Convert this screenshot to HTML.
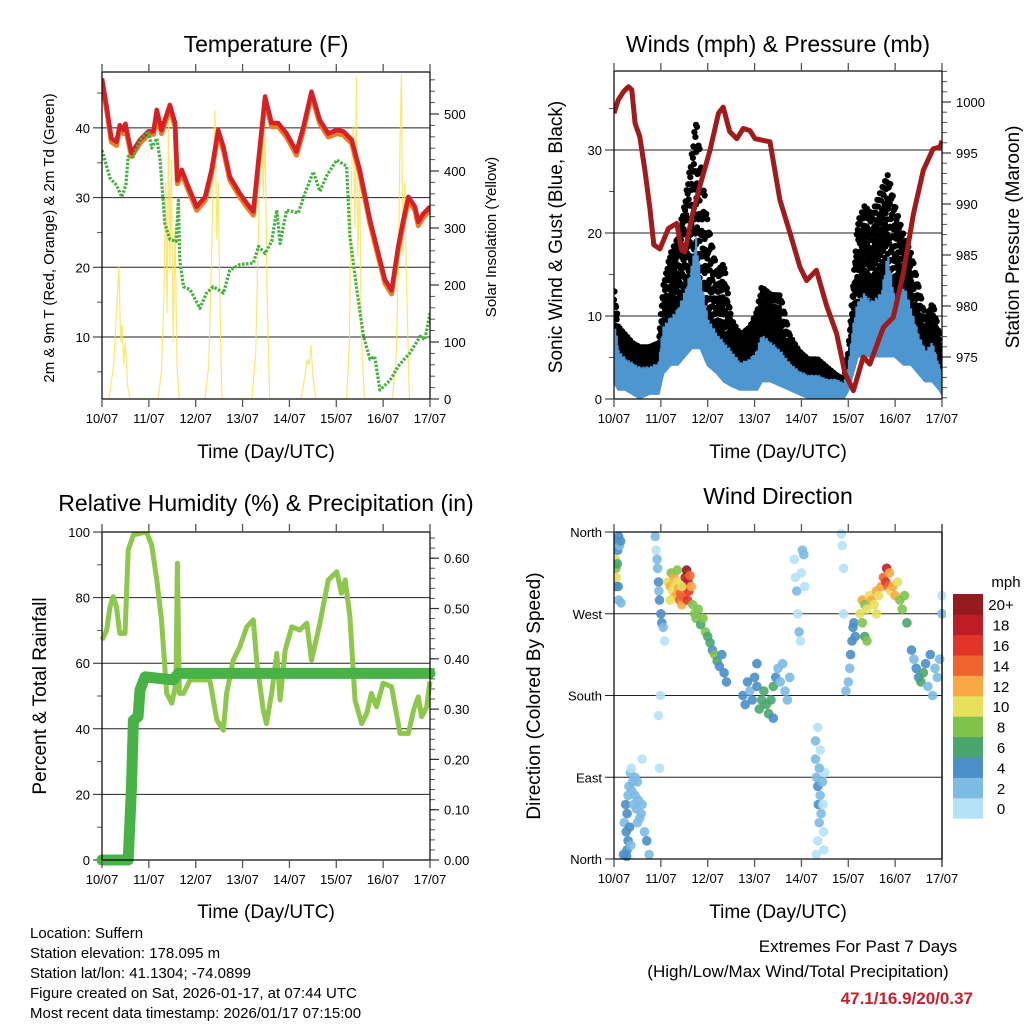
<!DOCTYPE html>
<html><head><meta charset="utf-8"><style>
html,body{margin:0;padding:0;background:#fff;}
svg{display:block;font-family:"Liberation Sans",Arial,sans-serif;}
</style></head><body>
<svg id="c" width="1024" height="1024" viewBox="0 0 1024 1024"></svg>
<script>
// ---------- data ----------
const tempDays=[0,0.1,0.2,0.31,0.38,0.46,0.5,0.63,0.81,0.99,1.1,1.17,1.27,1.45,1.56,1.61,1.7,1.84,2.02,2.2,2.34,2.48,2.59,2.73,2.94,3.09,3.23,3.34,3.48,3.62,3.76,3.94,4.15,4.3,4.47,4.65,4.83,5.01,5.15,5.33,5.5,5.72,5.93,6.04,6.18,6.32,6.43,6.54,6.68,6.75,6.86,7.0];
const temp2m=[47.1,43.0,38.5,38.0,40.4,39.7,40.6,36.4,38.3,39.5,39.5,42.6,39.7,43.3,40.7,32.5,34.0,31.6,28.7,30.1,34.0,39.7,37.3,33.0,30.6,29.2,28.0,35.4,44.5,40.7,40.7,39.2,36.6,40.2,45.2,41.1,39.2,39.7,39.5,38.3,34.0,26.8,21.1,18.2,16.7,22.9,26.8,30.1,28.7,26.5,27.7,28.7];
const temp9m=[46.8,42.7,38.2,37.7,40.1,39.4,40.3,36.1,38.0,39.3,39.3,42.3,39.4,43.0,40.4,32.2,33.7,31.3,28.4,29.8,33.7,39.4,37.0,32.7,30.3,28.9,27.7,35.1,44.2,40.4,40.4,38.9,36.3,39.9,44.9,40.8,38.9,39.4,39.2,38.0,33.7,26.5,20.8,17.9,16.4,22.6,26.5,29.8,28.4,26.2,27.4,28.4];
const dewDays=[0,0.17,0.31,0.42,0.51,0.56,0.67,0.81,0.99,1.06,1.17,1.24,1.34,1.45,1.58,1.63,1.66,1.74,1.88,2.09,2.23,2.37,2.48,2.59,2.73,2.94,3.23,3.34,3.48,3.62,3.73,3.8,3.94,4.19,4.33,4.51,4.65,4.8,5.01,5.22,5.29,5.43,5.58,5.72,5.82,5.93,6.15,6.32,6.57,6.79,6.89,7.0];
const dewVals=[36.8,32.8,31.8,30.1,31.8,35.9,35.9,38.3,39.5,37.1,38.5,35.4,26.3,24.0,23.7,29.6,21.0,17.2,16.8,14.1,16.3,17.2,16.8,16.3,19.6,20.4,20.6,23.0,22.0,23.7,28.2,23.4,28.2,27.8,30.6,33.7,30.9,33.2,35.4,34.5,24.4,17.2,10.1,6.8,7.2,2.4,3.8,5.8,7.7,10.1,9.6,13.4];
const solarDays=[0,0.15,0.25,0.3,0.36,0.4,0.43,0.46,0.5,0.55,0.6,1.2,1.27,1.32,1.36,1.39,1.42,1.45,1.48,1.52,1.56,1.6,1.65,2.2,2.28,2.34,2.38,2.41,2.45,2.48,2.52,2.56,3.2,3.28,3.34,3.38,3.41,3.44,3.48,3.52,3.58,4.25,4.33,4.38,4.42,4.46,4.5,4.56,5.22,5.28,5.32,5.36,5.4,5.43,5.46,5.5,5.53,5.6,6.2,6.28,6.33,6.36,6.39,6.42,6.46,6.5,6.56,7.0];
const solarVals=[0,0,60,140,232,100,130,60,100,20,0,0,50,180,380,150,496,220,420,100,300,60,0,0,60,250,420,507,280,380,150,0,0,80,300,450,507,350,470,200,0,0,40,70,60,95,40,0,0,100,380,480,300,566,250,400,120,0,0,80,250,450,570,250,380,200,0,0];
const windDays=[0,0.1,0.25,0.4,0.55,0.75,0.95,1.05,1.2,1.35,1.5,1.65,1.75,1.85,2.0,2.2,2.35,2.5,2.7,2.9,3.05,3.15,3.35,3.55,3.75,3.95,4.15,4.35,4.55,4.75,4.9,5.0,5.1,5.2,5.35,5.5,5.7,5.85,6.0,6.2,6.35,6.5,6.65,6.8,6.95,7.0];
const gustHi=[14,9,8,7,6.5,6.5,7,14,18,20,24,30,35,30,22,16,17,10,8,9,11,14,13,13,8,6,5,5,4,3,2.5,6,14,22,24,23,26,28,24,20,18,14,10,12,8,5];
const gustLo=[5,3,2.5,2,2,2,2,7,8,8,10,12,14,12,8,6,5,4,3,3,3,5,5,4,2,2,1,1,0.5,0.5,0.5,2,6,10,11,10,11,12,10,9,8,6,4,5,2,1];
const windHi=[10,6,5,4.5,4,4,4.5,9,10,11,13,16,20,15,10,8,7,6,4.5,5,6,8,7,6,4.5,3.5,3,3,2.5,2.5,2,4,9,12,13,12,13,18,12,14,11,8,6,7,4,3];
const windLo=[2,1,1,0.5,0,0.5,0.5,3,4,4,5,6,6,6,4,3,2,1.5,1,1,1,2,2,1.5,1,0.5,0,0,0,0,0,1,3,5,5,5,5,5,5,4,4,3,2,2,1,0.5];
const presDays=[0,0.09,0.2,0.31,0.38,0.45,0.55,0.66,0.77,0.85,0.98,1.16,1.34,1.44,1.51,1.66,1.83,2.05,2.23,2.33,2.47,2.62,2.76,2.9,3.01,3.33,3.54,3.76,3.97,4.11,4.32,4.54,4.75,4.93,5.11,5.32,5.46,5.75,5.96,6.17,6.39,6.6,6.81,6.96,7.0];
const presVals=[998.9,1000.2,1001.0,1001.5,1001.2,997.9,996.6,993.3,989.4,986.0,985.6,987.6,988.1,985.5,985.3,988.7,991.7,995.3,998.9,999.5,997.1,996.4,997.4,997.2,996.4,996.1,990.4,987.1,983.8,982.5,983.5,980.0,977.3,973.4,971.7,975.0,974.3,977.9,978.9,983.1,989.0,993.3,995.4,995.6,996.2];
const rhDays=[0,0.1,0.17,0.24,0.31,0.38,0.49,0.56,0.67,0.95,1.06,1.17,1.27,1.38,1.49,1.58,1.61,1.65,1.74,1.88,2.09,2.3,2.45,2.59,2.66,2.8,2.94,3.09,3.23,3.3,3.44,3.51,3.62,3.73,3.8,3.91,4.05,4.22,4.37,4.47,4.65,4.83,5.01,5.11,5.19,5.29,5.4,5.54,5.65,5.75,5.86,6.0,6.18,6.36,6.54,6.65,6.75,6.82,6.93,7.0];
const rhVals=[67.1,70.1,77.2,80.3,77.2,69.1,69.1,94.5,99.1,100,96.0,85.4,73.2,50.8,47.8,53.9,90.5,50.8,50.8,54.9,54.9,54.9,42.7,39.6,50.8,60.9,65.0,71.1,73.2,60.9,45.7,41.6,50.8,63.0,48.8,64.0,71.1,70.1,72.2,60.9,72.2,85.4,87.9,81.3,85.4,74.2,48.8,41.6,44.7,50.8,46.7,53.9,52.8,38.6,38.6,45.7,49.8,43.7,46.7,54.4];
const rainDays=[0,0.56,0.63,0.67,0.77,0.81,0.92,1.52,1.63,7.0];
const rainVals=[0,0,0.146,0.278,0.285,0.338,0.364,0.358,0.371,0.371];
const dirDays=[0.02,0.03,0.04,0.05,0.06,0.08,0.1,0.12,0.14,0.05,0.07,0.09,0.1,0.15,
0.22,0.25,0.26,0.28,0.3,0.32,0.35,0.37,0.38,0.4,0.42,0.45,0.48,0.5,0.52,0.55,0.58,0.6,0.3,0.28,0.2,0.33,0.36,0.6,0.7,0.75,0.65,0.27,0.5,0.45,
0.88,0.9,0.92,0.93,0.95,0.96,0.97,1.0,1.02,1.05,1.08,0.99,0.95,0.97,
1.15,1.2,1.22,1.25,1.28,1.3,1.32,1.35,1.38,1.4,1.42,1.45,1.48,1.5,1.52,1.55,1.58,1.6,1.62,1.57,1.65,1.45,1.35,1.2,
1.68,1.72,1.75,1.8,1.85,1.9,1.95,2.0,2.05,2.1,2.15,2.2,2.25,2.3,2.35,2.4,
2.75,2.8,2.85,2.9,2.95,3.0,3.05,3.1,3.15,3.2,3.25,3.3,3.35,3.4,3.45,3.5,3.55,3.6,3.65,3.7,3.75,3.05,3.4,
3.85,3.87,3.9,3.92,3.95,3.98,4.0,4.02,4.05,4.07,
4.35,4.3,4.3,4.32,4.35,4.36,4.38,4.35,4.4,4.42,4.45,4.47,4.48,4.5,4.38,4.32,4.46,4.4,4.85,4.87,4.9,4.9,
4.95,5.0,5.03,5.05,5.08,5.1,5.12,5.15,
5.25,5.3,5.35,5.4,5.45,5.5,5.55,5.6,5.65,5.7,5.75,5.8,5.82,5.85,5.88,5.9,5.95,6.0,6.05,6.1,6.15,6.2,5.3,5.35,5.4,5.6,6.25,
6.35,6.4,6.45,6.5,6.55,6.6,6.65,6.7,6.75,6.8,6.85,6.9,6.95,7.0,7.0];
const dirVals=[345,330,320,300,350,340,355,345,350,310,325,300,285,282,
40,60,30,50,70,80,95,100,75,85,60,70,55,40,65,45,50,60,20,10,5,35,15,110,20,5,30,3,85,90,
355,340,330,320,305,295,285,270,260,255,240,180,158,100,
305,300,315,295,310,300,290,305,298,285,292,280,288,300,310,318,305,295,312,285,300,300,318,285,
280,270,265,275,258,265,250,245,238,230,225,218,212,225,205,195,
180,170,195,185,175,200,190,165,175,185,170,160,175,190,200,210,195,215,185,175,200,215,155,
330,310,295,270,250,240,315,340,335,300,
145,130,110,90,80,60,40,20,70,50,85,30,10,95,100,5,60,120,358,345,320,270,
185,195,210,225,240,255,260,245,
270,285,280,275,290,285,280,295,290,300,310,305,320,300,315,295,300,290,305,285,275,290,260,245,240,270,260,
230,220,210,200,195,205,215,190,225,180,210,200,220,270,290];
const dirSpeeds=[7,10,8,6,5,4,4,3,4,10,7,5,3,3,
3,4,4,5,3,2,2,1,3,3,2,3,3,3,2,2,3,2,5,4,4,5,3,1,4,3,2,4,2,3,
2,1,3,2,4,3,5,4,5,3,1,1,1,1,
10,12,8,11,12,10,13,11,12,14,15,13,14,16,18,20,19,17,15,16,12,10,9,11,
9,8,9,8,7,9,8,6,7,5,8,6,5,4,5,4,
4,5,4,3,4,5,4,6,7,6,7,6,6,7,4,3,3,2,3,2,3,5,5,
1,1,2,1,2,1,1,2,2,1,
1,2,2,3,4,4,3,1,2,2,3,1,1,1,2,1,1,1,1,1,1,1,
2,3,3,4,4,5,4,5,
10,12,9,11,10,12,11,13,10,12,14,16,18,14,12,11,13,12,10,9,8,9,8,6,8,10,6,
4,3,5,4,6,7,4,3,4,2,3,2,3,2,1];
const dayLabels=["10/07","11/07","12/07","13/07","14/07","15/07","16/07","17/07"];
const speedColors=["#b6e2f8","#7dbae4","#4a8fc8","#48a66c","#7fc34c","#e7e05c","#f8a944","#f0642e","#e03528","#be1c26","#941a1d"];
const speedLabels=["0","2","4","6","8","10","12","14","16","18","20+"];

// ---------- helpers ----------
const NS="http://www.w3.org/2000/svg";
const svg=document.getElementById('c');
function mk(tag,attrs,parent){const e=document.createElementNS(NS,tag);for(const k in attrs)e.setAttribute(k,attrs[k]);(parent||svg).appendChild(e);return e;}
function lin(d0,d1,r0,r1){return v=>r0+(v-d0)*(r1-r0)/(d1-d0);}
function txt(x,y,s,size,anchor,parent,extra){const t=mk('text',Object.assign({x:x,y:y,'font-size':size,'text-anchor':anchor||'middle',fill:'#000'},extra||{}),parent);t.textContent=s;return t;}
function pathFrom(xs,ys,fx,fy){return xs.map((d,i)=>(i?'L':'M')+fx(d).toFixed(1)+','+fy(ys[i]).toFixed(1)).join('');}
function interp(days,vals,d){for(let i=1;i<days.length;i++){if(d<=days[i]){const f=(d-days[i-1])/(days[i]-days[i-1]);return vals[i-1]+f*(vals[i]-vals[i-1]);}}return vals[vals.length-1];}

function frame(g,x0,x1,y0,y1,xs){
  for(let d=0;d<=7;d++){const x=xs(d);
    mk('line',{x1:x,x2:x,y1:y0,y2:y0-8,stroke:'#555','stroke-width':1.3},g);
    mk('line',{x1:x,x2:x,y1:y1,y2:y1+8,stroke:'#555','stroke-width':1.3},g);
    const t=txt(x,y1+24,dayLabels[d],13,'middle',g);
    
    
  }
}
function leftAxis(g,x0,x1,ys,ticks,minor,labels){
  minor.forEach(v=>mk('line',{x1:x0,x2:x0-5,y1:ys(v),y2:ys(v),stroke:'#555','stroke-width':1},g));
  ticks.forEach((v,i)=>{mk('line',{x1:x0-9,x2:x1,y1:ys(v),y2:ys(v),stroke:'#222','stroke-width':1},g);
    if(labels[i]!==''){const t=txt(x0-12,ys(v)+5,labels[i],13,'end',g);
    
    }});
}
function rightAxis(g,x1,ys,ticks,minor,labels){
  minor.forEach(v=>mk('line',{x1:x1,x2:x1+5,y1:ys(v),y2:ys(v),stroke:'#555','stroke-width':1},g));
  ticks.forEach((v,i)=>{mk('line',{x1:x1,x2:x1+9,y1:ys(v),y2:ys(v),stroke:'#333','stroke-width':1.2},g);
    const t=txt(x1+14,ys(v)+5,labels[i],13,'start',g);
    
    });
}
function box(g,x0,x1,y0,y1){mk('rect',{x:x0,y:y0,width:x1-x0,height:y1-y0,fill:'none',stroke:'#000','stroke-width':1.2},g);}
function range(a,b,s){const r=[];for(let v=a;v<=b+1e-9;v+=s)r.push(+v.toFixed(4));return r;}

// ---------- Panel 1: Temperature ----------
(function(){
  const g=mk('g',{});  
  const x0=102,x1=430,y0=72,y1=399;
  const xs=lin(0,7,x0,x1), ys=lin(0,10,406.7,337), yr=lin(0,100,399,342);
  const clip=mk('clipPath',{id:'cp1'},g); mk('rect',{x:x0,y:y0,width:x1-x0,height:y1-y0},clip);
  leftAxis(g,x0,x1,ys,[10,20,30,40],range(5,45,10),['10','20','30','40']);
  rightAxis(g,x1,yr,[0,100,200,300,400,500],range(20,560,20),['0','100','200','300','400','500']);
  const pg=mk('g',{'clip-path':'url(#cp1)'},g);
  const s=mk('path',{d:pathFrom(solarDays,solarVals,xs,yr),fill:'none',stroke:'#ffe04a','stroke-width':1.2,'stroke-opacity':0.8},pg);
   
  const o=mk('path',{d:pathFrom(tempDays,temp9m,xs,ys),fill:'none',stroke:'#f07c22','stroke-width':5,'stroke-linejoin':'round',transform:'translate(0,1.5)'},pg);
   
  const r=mk('path',{d:pathFrom(tempDays,temp2m,xs,ys),fill:'none',stroke:'#d42026','stroke-width':4.5,'stroke-linejoin':'round'},pg);
   
  const gd=mk('path',{d:pathFrom(dewDays,dewVals,xs,ys),fill:'none',stroke:'#45b040','stroke-width':3.2,'stroke-dasharray':'2.5 1.5','stroke-linejoin':'round'},pg);
   
  box(g,x0,x1,y0,y1); frame(g,x0,x1,y0,y1,xs);
  let t=txt(266,52,'Temperature (F)',23,'middle',g);  
  t=txt(266,458,'Time (Day/UTC)',19,'middle',g);  
  t=txt(0,0,'2m & 9m T (Red, Orange) & 2m Td (Green)',15,'middle',g,{transform:'translate(54,238) rotate(-90)'});  
  t=txt(0,0,'Solar Insolation (Yellow)',15,'middle',g,{transform:'translate(496,237) rotate(-90)'});  
})();

// ---------- Panel 2: Winds ----------
(function(){
  const g=mk('g',{});  
  const x0=614,x1=942,y0=71,y1=399;
  const xs=lin(0,7,x0,x1), ys=lin(0,10,399,316), yr=lin(975,980,357,306);
  const clip=mk('clipPath',{id:'cp2'},g); mk('rect',{x:x0,y:y0,width:x1-x0,height:y1-y0},clip);
  leftAxis(g,x0,x1,ys,[0,10,20,30],[5,15,25,35],['0','10','20','30']);
  rightAxis(g,x1,yr,[975,980,985,990,995,1000],range(971,1003,1),['975','980','985','990','995','1000']);
  const pg=mk('g',{'clip-path':'url(#cp2)'},g);
  const gg=mk('g',{fill:'#000'},pg);  
  const fr=[0.05,0.55,0.3,0.8,0.15,0.65,0.4,0.95,0.22,0.72,0.48,0.1,0.88,0.35,0.6,0.02,0.78,0.27,0.5,0.92];
  let k=0;
  for(let d=0;d<=7.0001;d+=0.011){
    const lo=interp(windDays,gustLo,d), hi=interp(windDays,gustHi,d);
    for(let j=0;j<4;j++){
      const f=fr[(k++)%fr.length];
      const v=lo+(hi-lo)*Math.pow(f,1.15);
      mk('circle',{cx:xs(d).toFixed(1),cy:ys(v).toFixed(1),r:3.1},gg);
    }
  }
  let wd='';
  let m=0;
  for(let d=0;d<=7.0001;d+=0.008){
    const lo=interp(windDays,windLo,d), hi=interp(windDays,windHi,d);
    const f=0.6+0.4*fr[(m++)%fr.length];
    wd+='M'+xs(d).toFixed(1)+','+ys(lo).toFixed(1)+'V'+ys(lo+(hi-lo)*f).toFixed(1);
  }
  const wb=mk('path',{d:wd,fill:'none',stroke:'#4e96d0','stroke-width':2.4},pg);
   
  const p=mk('path',{d:pathFrom(presDays,presVals,xs,yr),fill:'none',stroke:'#a01b1b','stroke-width':5,'stroke-linejoin':'round'},pg);
   
  box(g,x0,x1,y0,y1); frame(g,x0,x1,y0,y1,xs);
  let t=txt(778,52,'Winds (mph) & Pressure (mb)',23,'middle',g);  
  t=txt(778,458,'Time (Day/UTC)',19,'middle',g);  
  t=txt(0,0,'Sonic Wind & Gust (Blue, Black)',19,'middle',g,{transform:'translate(562,237) rotate(-90)'});  
  t=txt(0,0,'Station Pressure (Maroon)',19,'middle',g,{transform:'translate(1019,237) rotate(-90)'});  
})();

// ---------- Panel 3: RH & Precip ----------
(function(){
  const g=mk('g',{});  
  const x0=102,x1=430,y0=532,y1=860;
  const xs=lin(0,7,x0,x1), ys=lin(0,100,860,532), yr=lin(0,0.1,860,809.7);
  const clip=mk('clipPath',{id:'cp3'},g); mk('rect',{x:x0-8,y:y0,width:x1-x0+16,height:y1-y0+8},clip);
  leftAxis(g,x0,x1,ys,[0,20,40,60,80,100],range(10,90,20),['0','20','40','60','80','100']);
  rightAxis(g,x1,yr,[0,0.1,0.2,0.3,0.4,0.5,0.6],range(0.02,0.64,0.02),['0.00','0.10','0.20','0.30','0.40','0.50','0.60']);
  const pg=mk('g',{'clip-path':'url(#cp3)'},g);
  const r=mk('path',{d:pathFrom(rhDays,rhVals,xs,ys),fill:'none',stroke:'#8dc74b','stroke-width':5,'stroke-linejoin':'round'},pg);
   
  const p=mk('path',{d:pathFrom(rainDays,rainVals,xs,yr),fill:'none',stroke:'#47b347','stroke-width':11,'stroke-linejoin':'round','stroke-linecap':'round'},pg);
   
  box(g,x0,x1,y0,y1); frame(g,x0,x1,y0,y1,xs);
  let t=txt(266,511,'Relative Humidity (%) & Precipitation (in)',23,'middle',g);  
  t=txt(266,918,'Time (Day/UTC)',19,'middle',g);  
  t=txt(0,0,'Percent & Total Rainfall',19,'middle',g,{transform:'translate(46,696) rotate(-90)'});  
})();

// ---------- Panel 4: Wind Direction ----------
(function(){
  const g=mk('g',{});  
  const x0=614,x1=942,y0=532,y1=859;
  const xs=lin(0,7,x0,x1), ys=lin(0,360,859,532);
  const clip=mk('clipPath',{id:'cp4'},g); mk('rect',{x:x0,y:y0-3,width:x1-x0+4,height:y1-y0+6},clip);
  leftAxis(g,x0,x1,ys,[0,90,180,270,360],[],['North','East','South','West','North']);
  const pg=mk('g',{'clip-path':'url(#cp4)'},g);
  dirDays.forEach((d,i)=>{
    const bin=Math.min(10,Math.floor(dirSpeeds[i]/2));
    const c=mk('circle',{cx:xs(d).toFixed(1),cy:ys(dirVals[i]).toFixed(1),r:4.8,fill:speedColors[bin],'fill-opacity':0.9},pg);
    
    
  });
  mk('line',{x1:x1,x2:x1,y1:y0-8,y2:y1+8,stroke:'#777','stroke-width':1.5},g);
  box(g,x0,x1,y0,y1); frame(g,x0,x1,y0,y1,xs);
  const lg=mk('g',{},g);  
  const bh=20.4;
  speedColors.forEach((col,i)=>{
    const y=594+(10-i)*bh;
    const rc=mk('rect',{x:953,y:y.toFixed(1),width:30,height:bh+0.3,fill:col},lg);
    
    
    const t=txt(1001,y+bh/2+6,speedLabels[i],15,'middle',lg);
    
    
  });
  let t=txt(1006,587,'mph',15,'middle',lg);  
  t=txt(778,504,'Wind Direction',23,'middle',g);  
  t=txt(778,918,'Time (Day/UTC)',19,'middle',g);  
  t=txt(0,0,'Direction (Colored By Speed)',19,'middle',g,{transform:'translate(540,696) rotate(-90)'});  
})();

// ---------- footer ----------
(function(){
  const g=mk('g',{});  
  const lines=['Location: Suffern','Station elevation: 178.095 m','Station lat/lon: 41.1304; -74.0899','Figure created on Sat, 2026-01-17, at 07:44 UTC','Most recent data timestamp: 2026/01/17 07:15:00'];
  lines.forEach((s,i)=>{const t=txt(30,938+i*20,s,15,'start',g);});
  const g2=mk('g',{});  
  let t=txt(858,952,'Extremes For Past 7 Days',17,'middle',g2);  
  t=txt(798,977,'(High/Low/Max Wind/Total Precipitation)',17,'middle',g2);  
  t=txt(973,1004,'47.1/16.9/20/0.37',17,'end',g2,{fill:'#c8202a','font-weight':'bold'});  
})();
</script>
</body></html>
